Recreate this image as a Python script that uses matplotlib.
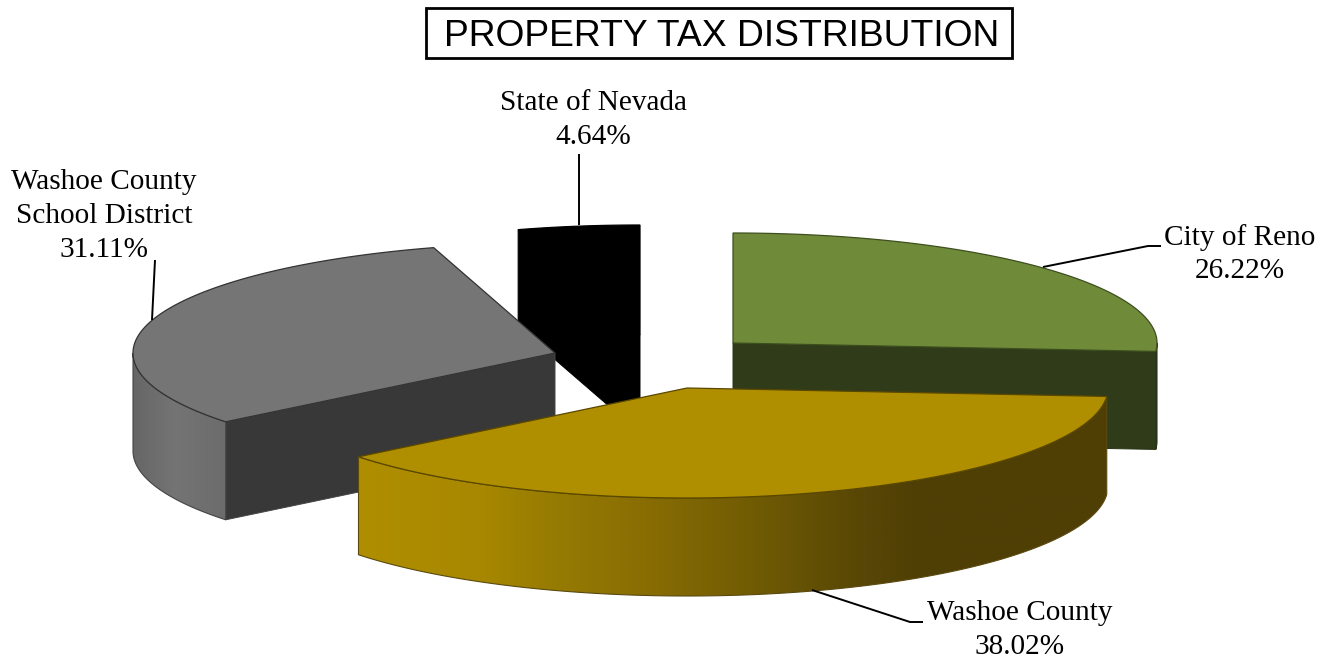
import matplotlib.pyplot as plt
import numpy as np
from matplotlib.colors import to_rgb
from matplotlib.patches import Polygon, Rectangle

# values, clockwise from 12 o'clock
names = ['City of Reno', 'Washoe County', 'Washoe County\nSchool District', 'State of Nevada']
shares = [26.22, 38.02, 31.11, 4.64]

# layout in image pixels (y pointing down)
apexes = [(733, 343), (687, 388), (555, 353), (640, 335)]
radii_x = [424, 421, 422, 424]
ry, depth = 110, 98
cut_face = [-1, None, 0, 0]  # which radial side can be seen

top_colors = ['#6F8B3A', '#AF8E00', '#757575', '#000000']
face_colors = ['#2F3B19', '#4F3F05', '#383838', '#000000']
edge_colors = ['#3E4F1E', '#5A4700', '#333333', '#000000']
outline_colors = ['#2A3516', '#5A4A10', '#444444', '#000000']

# rim shading, colour stops against x pixel
rim_stops = [
    [(733, '#2F3B19'), (1157, '#2F3B19')],
    [(358, '#AF8E00'), (480, '#A88800'), (560, '#957A03'), (640, '#8A6E03'),
     (760, '#6F5A04'), (860, '#584705'), (920, '#4F3F05'), (1108, '#4F3F05')],
    [(133, '#666666'), (175, '#747474'), (225, '#6C6C6C')],
    [(518, '#000000'), (640, '#000000')],
]

label_xy = [(1240, 254), (1020, 630), (104, 216), (593, 120)]
leaders = [
    [(1043, 267), (1148, 246), (1161, 246)],
    [(812, 590), (910, 622), (923, 622)],
    [(152, 320), (155, 260)],
    [(579, 225), (579, 154)],
]


def arc(cx, cy, rx, t0, t1, n=200):
    t = np.radians(np.linspace(t0, t1, n))
    return cx + rx * np.sin(t), cy - ry * np.cos(t)


fig = plt.figure(figsize=(13.33, 6.61), dpi=100)
ax = fig.add_axes([0, 0, 1, 1])

# angle range of every slice
edges = np.concatenate([[0], np.cumsum(shares)]) / np.sum(shares) * 360
starts = edges[:-1]
ends = edges[1:]

# back to front: black, gray, green, gold
for z, i in enumerate([3, 2, 0, 1]):
    cx, cy = apexes[i]
    rx = radii_x[i]
    xs, ys = arc(cx, cy, rx, starts[i], ends[i])

    # radial cut face
    if cut_face[i] is not None:
        k = cut_face[i]
        quad = [(cx, cy), (xs[k], ys[k]), (xs[k], ys[k] + depth), (cx, cy + depth)]
        ax.add_patch(Polygon(quad, closed=True, facecolor=face_colors[i],
                             edgecolor=outline_colors[i], linewidth=0.7, zorder=z + 1))

    # outer rim, only the part turned to the front
    t0, t1 = max(starts[i], 90), min(ends[i], 270)
    if t1 > t0:
        rim_x, rim_y = arc(cx, cy, rx, t0, t1)
        outline = np.column_stack([np.r_[rim_x, rim_x[::-1]], np.r_[rim_y, rim_y[::-1] + depth]])
        rim = Polygon(outline, closed=True, facecolor='none', edgecolor=outline_colors[i],
                      linewidth=0.8, zorder=z + 1.2)
        ax.add_patch(rim)
        x0, x1 = rim_x.min(), rim_x.max()
        grid = np.linspace(x0, x1, 400)
        stops = rim_stops[i]
        rgb = np.array([to_rgb(s[1]) for s in stops])
        shade = np.stack([np.interp(grid, [s[0] for s in stops], rgb[:, c]) for c in range(3)], axis=1)
        im = ax.imshow(shade[np.newaxis, :, :], extent=(x0, x1, rim_y.max() + depth, rim_y.min()),
                       aspect='auto', origin='upper', interpolation='bilinear', zorder=z + 1.1)
        im.set_clip_path(rim)

    # top of the slice
    top = np.column_stack([np.r_[cx, xs], np.r_[cy, ys]])
    ax.add_patch(Polygon(top, closed=True, facecolor=top_colors[i],
                         edgecolor=edge_colors[i], linewidth=0.9, zorder=z + 1.3))

ax.set_xlim(0, 1333)
ax.set_ylim(661, 0)
ax.axis('off')

for i, pts in enumerate(leaders):
    ax.plot([p[0] for p in pts], [p[1] for p in pts], color='black', linewidth=1.4,
            solid_capstyle='butt', zorder=6)
    ax.text(label_xy[i][0], label_xy[i][1], f'{names[i]}\n{shares[i]:.2f}%',
            family='Liberation Serif', fontsize=21.1, color='black', ha='center',
            va='center', linespacing=1.38, zorder=7)

ax.add_patch(Rectangle((425.5, 7.5), 586, 50.5, facecolor='white', edgecolor='black',
                       linewidth=2, zorder=8))
ax.text(722, 36, 'PROPERTY TAX DISTRIBUTION', family='Liberation Sans', fontsize=26.8,
        color='black', ha='center', va='center', zorder=9)

fig.savefig('out.png', dpi=100)
